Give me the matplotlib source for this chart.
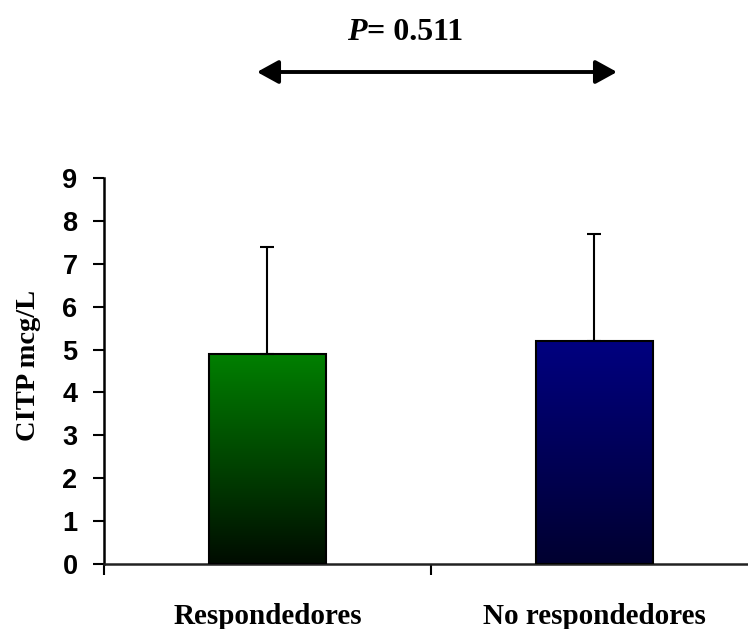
import numpy as np
import matplotlib
matplotlib.use("Agg")
import matplotlib.pyplot as plt
from matplotlib.patches import FancyArrowPatch
from matplotlib.colors import LinearSegmentedColormap

# Data
categories = ["Respondedores", "No respondedores"]
means = [4.9, 5.2]
sds = [2.5, 2.5]
p_value = "0.511"
y_ticks = list(range(0, 10))

# Gradient colours (top -> bottom)
top_colors = ["#008000", "#000080"]
bottom_colors = ["#000c00", "#000030"]

W, H, DPI = 748, 629, 100
fig = plt.figure(figsize=(W / DPI, H / DPI), dpi=DPI)
ax = fig.add_axes([104 / W, 65 / H, 644 / W, 386 / H])

x = np.arange(len(categories))
bar_w = 0.36
bars = ax.bar(x, means, width=bar_w, color="none", edgecolor="black",
              linewidth=1.5, zorder=3)

# Vertical gradient fill clipped to each bar
grad = np.linspace(0, 1, 256).reshape(-1, 1)
for bar, top, bot in zip(bars, top_colors, bottom_colors):
    cmap = LinearSegmentedColormap.from_list("g", [bot, top])
    x0 = bar.get_x()
    x1 = x0 + bar.get_width()
    h = bar.get_height()
    im = ax.imshow(grad, cmap=cmap, aspect="auto", origin="lower",
                   extent=[x0, x1, 0, h], zorder=2, interpolation="bilinear")
    im.set_clip_path(bar)

# Upper error bars only
ax.errorbar(x, means, yerr=[np.zeros(len(sds)), sds], fmt="none",
            ecolor="black", elinewidth=1.5, capsize=5, capthick=1.5, zorder=4)

ax.set_xlim(-0.5, 1.47)
ax.set_ylim(0, 9)
ax.set_yticks(y_ticks)
ax.set_yticklabels([str(t) for t in y_ticks], fontfamily="Liberation Sans",
                   fontweight="bold", fontsize=19.5)
ax.tick_params(axis="y", direction="out", length=8, width=1.5, pad=11)

# Category ticks at boundaries, labels at centres
ax.set_xticks([-0.5, 0.5])
ax.set_xticklabels([])
ax.tick_params(axis="x", direction="out", length=8, width=1.5)
ax.set_xticks(x, minor=True)
ax.set_xticklabels(categories, minor=True, fontfamily="Liberation Serif",
                   fontweight="bold", fontsize=21)
ax.tick_params(axis="x", which="minor", length=0, pad=28)

for s in ["top", "right"]:
    ax.spines[s].set_visible(False)
for s in ["left", "bottom"]:
    ax.spines[s].set_linewidth(1.8)
ax.spines["bottom"].set_color("#222222")

ax.set_ylabel("CITP mcg/L", fontfamily="Liberation Serif", fontweight="bold",
              fontsize=20.5)
ax.yaxis.set_label_coords(-(104 - 41) / 644, 0.515)

# Significance annotation: italic P followed by the value
fs_p = 23
tP = fig.text(0, 0, "P", fontsize=fs_p, fontfamily="Liberation Serif",
              fontweight="bold", fontstyle="italic", va="center")
tR = fig.text(0, 0, "= " + p_value, fontsize=fs_p,
              fontfamily="Liberation Serif", fontweight="bold", va="center")
fig.canvas.draw()
r = fig.canvas.get_renderer()
wP = tP.get_window_extent(r).width
wR = tR.get_window_extent(r).width
x_start = 405 - (wP + wR) / 2
yc = H - 32
tP.set_position((x_start / W, yc / H))
tR.set_position(((x_start + wP) / W, yc / H))

arrow = FancyArrowPatch((257 / W, 1 - 72 / H), (617 / W, 1 - 72 / H),
                        transform=fig.transFigure,
                        arrowstyle="<|-|>,head_length=1.0,head_width=0.55",
                        mutation_scale=13, linewidth=2.8, color="black",
                        shrinkA=0, shrinkB=0)
fig.add_artist(arrow)

fig.savefig("out.png", dpi=DPI)
